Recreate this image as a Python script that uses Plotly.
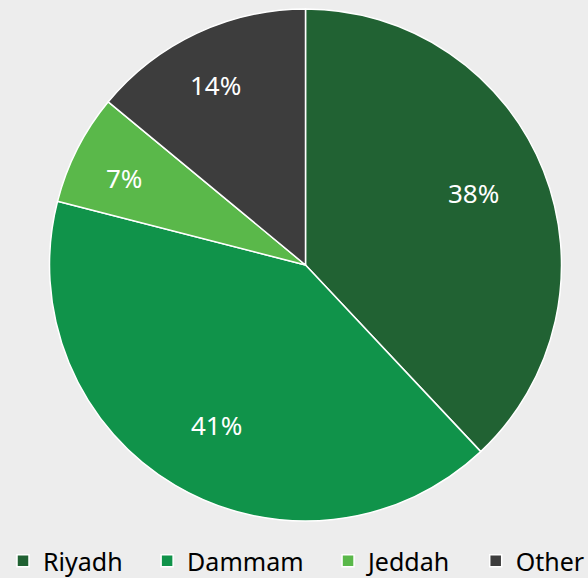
import math
import plotly.graph_objects as go

# City shares (percent), clockwise from 12 o'clock
cities = ["Riyadh", "Dammam", "Jeddah", "Other"]
shares = [38, 41, 7, 14]
colors = ["#216233", "#10934a", "#5ab84a", "#3d3d3d"]

W, H = 588, 578
cx, cy, r = 305.5, 265, 256

# widen the gaps between legend entries with trailing non-breaking spaces
GAP = "\u00a0" * 3
legend_names = [c + GAP if i < len(cities) - 1 else c for i, c in enumerate(cities)]

fig = go.Figure(
    go.Pie(
        labels=legend_names,
        values=shares,
        sort=False,
        direction="clockwise",
        rotation=0,
        marker=dict(colors=colors, line=dict(color="white", width=1.5)),
        textinfo="none",
        hovertext=cities,
        hoverinfo="text+percent",
        domain=dict(
            x=[(cx - r) / W, (cx + r) / W],
            y=[1 - (cy + r) / H, 1 - (cy - r) / H],
        ),
    )
)

# percentage labels near each slice's mid-angle; narrow slices sit nearer the rim
total = sum(shares)
start = 0.0
for v in shares:
    frac = v / total
    mid = (start + frac / 2) * 2 * math.pi - math.radians(1.5)
    start += frac
    rad = (0.785 if frac < 0.2 else 0.715) * r
    px = cx + rad * math.sin(mid)
    py = cy - rad * math.cos(mid)
    fig.add_annotation(
        x=px / W,
        y=1 - py / H,
        xref="paper",
        yref="paper",
        text=f"{round(frac * 100)}%",
        showarrow=False,
        xanchor="center",
        yanchor="middle",
        font=dict(family="Noto Sans", size=26, color="white"),
    )

fig.update_layout(
    width=W,
    height=H,
    margin=dict(l=0, r=0, t=0, b=0, autoexpand=False),
    paper_bgcolor="#ededed",
    plot_bgcolor="#ededed",
    font=dict(family="Noto Sans", color="black"),
    showlegend=True,
    legend=dict(
        orientation="h",
        x=3 / W,
        xanchor="left",
        y=-6 / H,
        yanchor="bottom",
        font=dict(family="Noto Sans", size=25, color="black"),
        bgcolor="rgba(0,0,0,0)",
        itemclick=False,
        itemdoubleclick=False,
    ),
)

fig.write_html("out.html")
